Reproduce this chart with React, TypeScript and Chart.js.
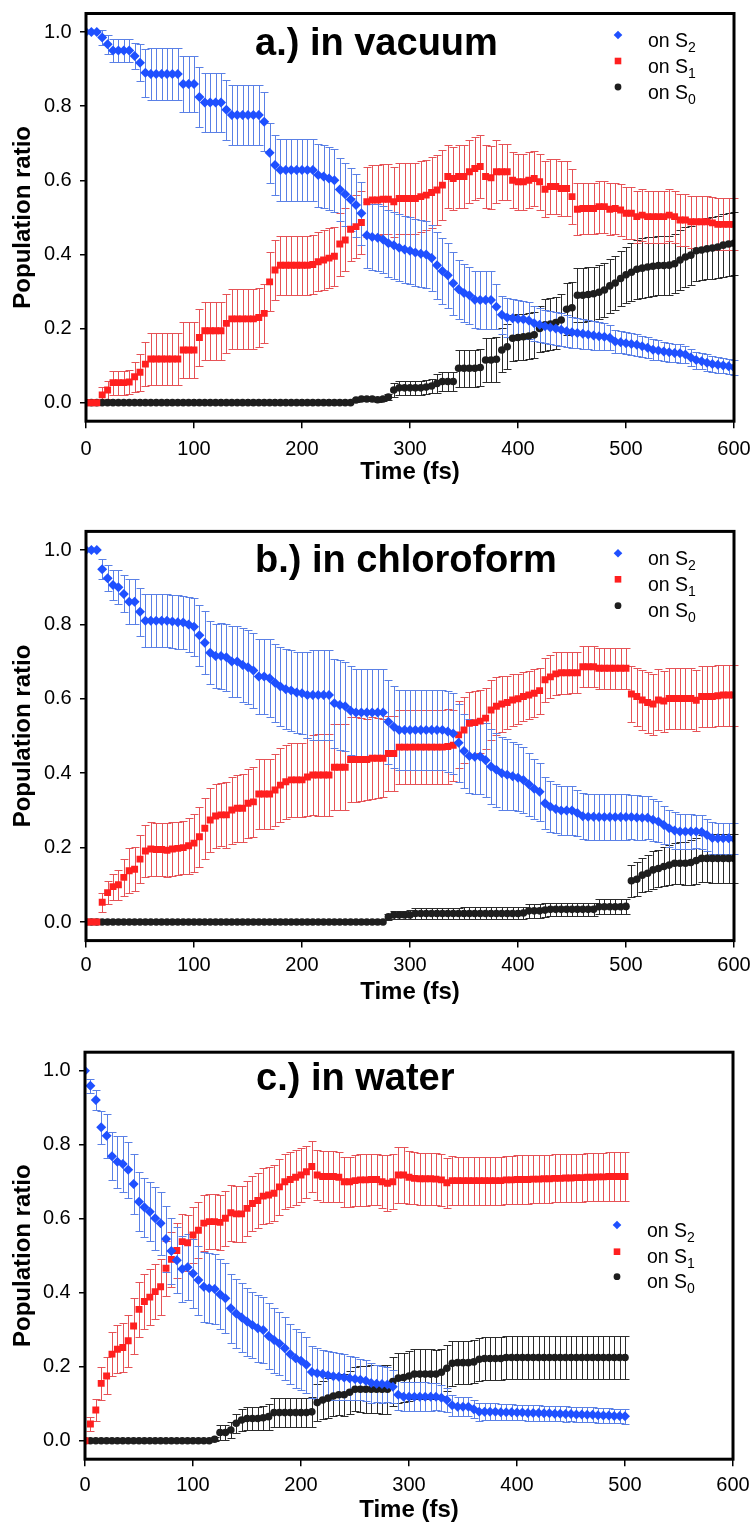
import React, { useEffect, useRef } from "react";
import { Chart, registerables } from "chart.js";
Chart.register(...registerables);

const FONT = '"Liberation Sans", Arial, Helvetica, sans-serif';
Chart.defaults.font.family = FONT;

// ---------- shared axis data ----------
const TIMES = [
  0, 5, 10, 15, 20, 25, 30, 35, 40, 45,
  50, 55, 60, 65, 70, 75, 80, 85, 90, 95,
  100, 105, 110, 115, 120, 125, 130, 135, 140, 145,
  150, 155, 160, 165, 170, 175, 180, 185, 190, 195,
  200, 205, 210, 215, 220, 225, 230, 235, 240, 245,
  250, 255, 260, 265, 270, 275, 280, 285, 290, 295,
  300, 305, 310, 315, 320, 325, 330, 335, 340, 345,
  350, 355, 360, 365, 370, 375, 380, 385, 390, 395,
  400, 405, 410, 415, 420, 425, 430, 435, 440, 445,
  450, 455, 460, 465, 470, 475, 480, 485, 490, 495,
  500, 505, 510, 515, 520, 525, 530, 535, 540, 545,
  550, 555, 560, 565, 570, 575, 580, 585, 590, 595,
  600,
];
const TIMES_C = TIMES.slice(0, 101);
const Y_TICKS = [0, 0.2, 0.4, 0.6, 0.8, 1.0];
const X_TITLE = "Time (fs)";
const Y_TITLE = "Population ratio";
const SERIES_LABELS = ["on S\u2082", "on S\u2081", "on S\u2080"];
const LEGEND_MAIN = ["on S", "on S", "on S"];
const LEGEND_SUB = ["2", "1", "0"];
const TITLES = ["a.) in vacuum", "b.) in chloroform", "c.) in water"];

// ---------- panel a: in vacuum ----------
const A_S2 = [
  1.0, 1.0, 1.0, 0.985, 0.967, 0.95, 0.95, 0.95, 0.95, 0.935,
  0.917, 0.89, 0.887, 0.887, 0.887, 0.887, 0.887, 0.887, 0.86, 0.86,
  0.86, 0.825, 0.81, 0.81, 0.81, 0.81, 0.79, 0.776, 0.776, 0.776,
  0.776, 0.776, 0.776, 0.758, 0.674, 0.641, 0.628, 0.628, 0.628, 0.628,
  0.628, 0.628, 0.628, 0.614, 0.61, 0.605, 0.6, 0.575, 0.562, 0.548,
  0.533, 0.511, 0.452, 0.447, 0.445, 0.44, 0.43, 0.425, 0.418, 0.413,
  0.41, 0.405, 0.402, 0.4, 0.39, 0.371, 0.355, 0.344, 0.322, 0.306,
  0.296, 0.29, 0.278, 0.277, 0.277, 0.277, 0.259, 0.237, 0.23, 0.228,
  0.226, 0.225, 0.222, 0.214, 0.21, 0.206, 0.203, 0.2, 0.197, 0.193,
  0.19, 0.188, 0.186, 0.184, 0.181, 0.179, 0.178, 0.175, 0.165, 0.163,
  0.16, 0.158, 0.156, 0.152, 0.148, 0.143, 0.141, 0.138, 0.136, 0.134,
  0.133, 0.13, 0.122, 0.115, 0.112, 0.108, 0.104, 0.102, 0.1, 0.098,
  0.095,
];
const A_S2_ERR = [
  0, 0, 0, 0.02, 0.025, 0.03, 0.03, 0.03, 0.03, 0.035,
  0.05, 0.065, 0.07, 0.07, 0.07, 0.07, 0.07, 0.07, 0.075, 0.075,
  0.075, 0.08, 0.08, 0.08, 0.08, 0.08, 0.08, 0.08, 0.08, 0.08,
  0.08, 0.08, 0.08, 0.08, 0.08, 0.082, 0.083, 0.083, 0.083, 0.083,
  0.083, 0.083, 0.083, 0.085, 0.085, 0.085, 0.085, 0.085, 0.085, 0.085,
  0.085, 0.085, 0.09, 0.09, 0.09, 0.09, 0.09, 0.09, 0.09, 0.09,
  0.09, 0.09, 0.09, 0.09, 0.09, 0.09, 0.09, 0.088, 0.085, 0.08,
  0.078, 0.077, 0.077, 0.077, 0.077, 0.077, 0.06, 0.052, 0.052, 0.052,
  0.05, 0.05, 0.05, 0.048, 0.045, 0.045, 0.045, 0.045, 0.045, 0.043,
  0.042, 0.04, 0.04, 0.04, 0.04, 0.038, 0.036, 0.034, 0.032, 0.03,
  0.03, 0.03, 0.03, 0.029, 0.028, 0.028, 0.027, 0.026, 0.026, 0.025,
  0.025, 0.024, 0.023, 0.023, 0.022, 0.022, 0.022, 0.021, 0.021, 0.02,
  0.02,
];
const A_S1 = [
  0, 0, 0, 0.021, 0.034, 0.054, 0.054, 0.054, 0.056, 0.07,
  0.082, 0.104, 0.118, 0.118, 0.118, 0.118, 0.118, 0.118, 0.142, 0.142,
  0.142, 0.176, 0.194, 0.194, 0.194, 0.194, 0.214, 0.226, 0.226, 0.226,
  0.226, 0.226, 0.23, 0.241, 0.326, 0.358, 0.371, 0.371, 0.371, 0.371,
  0.371, 0.371, 0.373, 0.38, 0.385, 0.39, 0.395, 0.428, 0.439, 0.468,
  0.475, 0.486, 0.542, 0.547, 0.547, 0.549, 0.549, 0.542, 0.551, 0.551,
  0.551, 0.551, 0.556, 0.56, 0.567, 0.574, 0.587, 0.61, 0.605, 0.61,
  0.61, 0.623, 0.632, 0.637, 0.61, 0.607, 0.623, 0.623, 0.623, 0.6,
  0.596, 0.596, 0.6, 0.605, 0.596, 0.576, 0.583, 0.583, 0.578, 0.578,
  0.556, 0.522, 0.524, 0.524, 0.524, 0.529, 0.529, 0.522, 0.524, 0.52,
  0.511, 0.511, 0.502, 0.506, 0.502, 0.502, 0.502, 0.502, 0.506, 0.502,
  0.493, 0.493, 0.488, 0.488, 0.488, 0.488, 0.485, 0.481, 0.481, 0.481,
  0.481,
];
const A_S1_ERR = [
  0, 0, 0, 0.02, 0.025, 0.032, 0.032, 0.032, 0.032, 0.04,
  0.05, 0.06, 0.07, 0.07, 0.07, 0.07, 0.07, 0.07, 0.075, 0.075,
  0.075, 0.078, 0.078, 0.078, 0.078, 0.078, 0.08, 0.08, 0.08, 0.08,
  0.08, 0.08, 0.08, 0.08, 0.08, 0.08, 0.08, 0.08, 0.08, 0.08,
  0.08, 0.08, 0.08, 0.08, 0.08, 0.08, 0.08, 0.085, 0.085, 0.085,
  0.085, 0.085, 0.095, 0.095, 0.095, 0.095, 0.095, 0.095, 0.095, 0.095,
  0.095, 0.095, 0.095, 0.095, 0.095, 0.095, 0.095, 0.085, 0.085, 0.085,
  0.085, 0.085, 0.085, 0.085, 0.085, 0.085, 0.085, 0.075, 0.075, 0.075,
  0.075, 0.075, 0.075, 0.075, 0.075, 0.075, 0.075, 0.075, 0.075, 0.075,
  0.075, 0.07, 0.07, 0.07, 0.07, 0.07, 0.07, 0.07, 0.07, 0.07,
  0.07, 0.07, 0.07, 0.07, 0.07, 0.07, 0.07, 0.07, 0.07, 0.07,
  0.07, 0.07, 0.07, 0.07, 0.07, 0.07, 0.07, 0.07, 0.07, 0.07,
  0.07,
];
const A_S0 = [
  0, 0, 0, 0, 0, 0, 0, 0, 0, 0,
  0, 0, 0, 0, 0, 0, 0, 0, 0, 0,
  0, 0, 0, 0, 0, 0, 0, 0, 0, 0,
  0, 0, 0, 0, 0, 0, 0, 0, 0, 0,
  0, 0, 0, 0, 0, 0, 0, 0, 0, 0,
  0.007, 0.01, 0.01, 0.01, 0.008, 0.01, 0.015, 0.034, 0.04, 0.04,
  0.04, 0.04, 0.04, 0.042, 0.045, 0.052, 0.057, 0.057, 0.057, 0.093,
  0.093, 0.093, 0.093, 0.095, 0.115, 0.115, 0.117, 0.142, 0.151, 0.174,
  0.176, 0.178, 0.18, 0.183, 0.2, 0.21, 0.212, 0.216, 0.223, 0.252,
  0.256, 0.29, 0.29, 0.292, 0.294, 0.298, 0.304, 0.315, 0.323, 0.335,
  0.345, 0.352, 0.36, 0.363, 0.366, 0.368, 0.37, 0.37, 0.371, 0.375,
  0.385, 0.393, 0.398, 0.41, 0.412, 0.415, 0.417, 0.42, 0.425, 0.428,
  0.43,
];
const A_S0_ERR = [
  0, 0, 0, 0, 0, 0, 0, 0, 0, 0,
  0, 0, 0, 0, 0, 0, 0, 0, 0, 0,
  0, 0, 0, 0, 0, 0, 0, 0, 0, 0,
  0, 0, 0, 0, 0, 0, 0, 0, 0, 0,
  0, 0, 0, 0, 0, 0, 0, 0, 0, 0,
  0.005, 0.005, 0.005, 0.005, 0.005, 0.005, 0.008, 0.018, 0.018, 0.018,
  0.018, 0.018, 0.018, 0.018, 0.018, 0.025, 0.025, 0.025, 0.025, 0.05,
  0.05, 0.05, 0.05, 0.05, 0.06, 0.06, 0.06, 0.06, 0.06, 0.062,
  0.062, 0.062, 0.062, 0.062, 0.062, 0.07, 0.07, 0.07, 0.07, 0.07,
  0.07, 0.073, 0.073, 0.073, 0.073, 0.073, 0.073, 0.073, 0.073, 0.075,
  0.075, 0.078, 0.08, 0.08, 0.08, 0.08, 0.08, 0.08, 0.08, 0.08,
  0.08, 0.08, 0.08, 0.082, 0.082, 0.082, 0.083, 0.084, 0.085, 0.085,
  0.085,
];

// ---------- panel b: in chloroform ----------
const B_S2 = [
  1.0, 1.0, 1.0, 0.948, 0.924, 0.906, 0.9, 0.882, 0.861, 0.861,
  0.834, 0.81, 0.81, 0.81, 0.81, 0.81, 0.808, 0.806, 0.805, 0.8,
  0.794, 0.771, 0.751, 0.724, 0.715, 0.715, 0.712, 0.7, 0.7, 0.691,
  0.685, 0.676, 0.66, 0.66, 0.655, 0.643, 0.633, 0.626, 0.622, 0.617,
  0.615, 0.61, 0.61, 0.61, 0.61, 0.61, 0.588, 0.583, 0.58, 0.568,
  0.563, 0.563, 0.563, 0.563, 0.563, 0.563, 0.538, 0.525, 0.516, 0.516,
  0.516, 0.516, 0.516, 0.516, 0.516, 0.516, 0.516, 0.512, 0.507, 0.482,
  0.46, 0.446, 0.444, 0.445, 0.435, 0.418, 0.409, 0.4, 0.396, 0.392,
  0.388, 0.382, 0.37, 0.358, 0.35, 0.319, 0.31, 0.304, 0.3, 0.3,
  0.3, 0.293, 0.284, 0.283, 0.283, 0.282, 0.282, 0.282, 0.282, 0.282,
  0.282, 0.282, 0.281, 0.28, 0.28, 0.275, 0.27, 0.261, 0.252, 0.246,
  0.243, 0.243, 0.243, 0.243, 0.242, 0.234, 0.226, 0.225, 0.225, 0.225,
  0.224,
];
const B_S2_ERR = [
  0, 0, 0, 0.027, 0.035, 0.04, 0.045, 0.05, 0.06, 0.06,
  0.065, 0.072, 0.072, 0.072, 0.072, 0.072, 0.072, 0.072, 0.072, 0.075,
  0.078, 0.082, 0.085, 0.085, 0.085, 0.088, 0.09, 0.095, 0.095, 0.1,
  0.1, 0.1, 0.1, 0.1, 0.105, 0.105, 0.105, 0.108, 0.108, 0.11,
  0.11, 0.115, 0.12, 0.12, 0.12, 0.12, 0.12, 0.12, 0.12, 0.12,
  0.118, 0.118, 0.118, 0.118, 0.118, 0.118, 0.112, 0.11, 0.108, 0.108,
  0.108, 0.108, 0.108, 0.108, 0.108, 0.108, 0.108, 0.108, 0.108, 0.105,
  0.1, 0.1, 0.1, 0.1, 0.1, 0.1, 0.1, 0.098, 0.095, 0.092,
  0.09, 0.088, 0.085, 0.08, 0.078, 0.07, 0.068, 0.066, 0.065, 0.065,
  0.065, 0.063, 0.062, 0.062, 0.062, 0.062, 0.062, 0.062, 0.062, 0.062,
  0.062, 0.06, 0.06, 0.06, 0.058, 0.056, 0.054, 0.052, 0.05, 0.05,
  0.048, 0.048, 0.046, 0.045, 0.045, 0.044, 0.043, 0.042, 0.042, 0.042,
  0.042,
];
const B_S1 = [
  0, 0, 0, 0.053, 0.079, 0.095, 0.1, 0.12, 0.138, 0.142,
  0.169, 0.191, 0.196, 0.195, 0.195, 0.193, 0.196, 0.198, 0.2, 0.205,
  0.212, 0.229, 0.252, 0.274, 0.285, 0.288, 0.288, 0.301, 0.306, 0.306,
  0.319, 0.323, 0.344, 0.344, 0.344, 0.355, 0.368, 0.377, 0.382, 0.382,
  0.382, 0.39, 0.395, 0.395, 0.395, 0.395, 0.416, 0.416, 0.416, 0.437,
  0.437, 0.437, 0.437, 0.44, 0.44, 0.44, 0.453, 0.453, 0.47, 0.47,
  0.47, 0.47, 0.47, 0.47, 0.47, 0.47, 0.47, 0.472, 0.475, 0.503,
  0.516, 0.534, 0.536, 0.54, 0.548, 0.57, 0.58, 0.586, 0.59, 0.597,
  0.6, 0.606, 0.61, 0.615, 0.622, 0.651, 0.659, 0.667, 0.67, 0.67,
  0.67, 0.67, 0.686, 0.686, 0.686, 0.682, 0.682, 0.682, 0.682, 0.682,
  0.682, 0.613, 0.606, 0.597, 0.59, 0.586, 0.597, 0.594, 0.601, 0.601,
  0.601, 0.601, 0.601, 0.596, 0.606, 0.606, 0.606, 0.608, 0.61, 0.61,
  0.61,
];
const B_S1_ERR = [
  0, 0, 0, 0.025, 0.03, 0.035, 0.04, 0.05, 0.06, 0.06,
  0.065, 0.07, 0.072, 0.072, 0.072, 0.072, 0.072, 0.072, 0.072, 0.075,
  0.078, 0.08, 0.082, 0.085, 0.085, 0.085, 0.088, 0.09, 0.09, 0.092,
  0.092, 0.095, 0.095, 0.095, 0.095, 0.097, 0.1, 0.1, 0.1, 0.1,
  0.1, 0.105, 0.108, 0.11, 0.11, 0.11, 0.115, 0.115, 0.115, 0.115,
  0.115, 0.112, 0.11, 0.11, 0.108, 0.105, 0.1, 0.1, 0.1, 0.1,
  0.1, 0.1, 0.1, 0.1, 0.1, 0.1, 0.1, 0.1, 0.095, 0.09,
  0.088, 0.085, 0.085, 0.085, 0.082, 0.08, 0.078, 0.075, 0.072, 0.07,
  0.068, 0.066, 0.065, 0.065, 0.062, 0.06, 0.058, 0.058, 0.056, 0.056,
  0.055, 0.055, 0.055, 0.055, 0.055, 0.055, 0.055, 0.055, 0.055, 0.055,
  0.055, 0.075, 0.078, 0.08, 0.082, 0.082, 0.082, 0.082, 0.082, 0.082,
  0.082, 0.082, 0.082, 0.082, 0.082, 0.082, 0.082, 0.082, 0.082, 0.082,
  0.082,
];
const B_S0 = [
  0, 0, 0, 0, 0, 0, 0, 0, 0, 0,
  0, 0, 0, 0, 0, 0, 0, 0, 0, 0,
  0, 0, 0, 0, 0, 0, 0, 0, 0, 0,
  0, 0, 0, 0, 0, 0, 0, 0, 0, 0,
  0, 0, 0, 0, 0, 0, 0, 0, 0, 0,
  0, 0, 0, 0, 0, 0, 0.014, 0.019, 0.019, 0.019,
  0.019, 0.023, 0.023, 0.023, 0.023, 0.023, 0.023, 0.023, 0.023, 0.023,
  0.023, 0.023, 0.023, 0.023, 0.023, 0.023, 0.023, 0.023, 0.023, 0.023,
  0.023, 0.024, 0.03, 0.03, 0.03, 0.032, 0.034, 0.034, 0.034, 0.034,
  0.034, 0.034, 0.034, 0.034, 0.034, 0.041, 0.041, 0.041, 0.041, 0.041,
  0.042, 0.111, 0.115, 0.126, 0.131, 0.14, 0.144, 0.149, 0.153, 0.158,
  0.158, 0.158, 0.16, 0.165, 0.171, 0.171, 0.171, 0.171, 0.171, 0.171,
  0.171,
];
const B_S0_ERR = [
  0, 0, 0, 0, 0, 0, 0, 0, 0, 0,
  0, 0, 0, 0, 0, 0, 0, 0, 0, 0,
  0, 0, 0, 0, 0, 0, 0, 0, 0, 0,
  0, 0, 0, 0, 0, 0, 0, 0, 0, 0,
  0, 0, 0, 0, 0, 0, 0, 0, 0, 0,
  0, 0, 0, 0, 0, 0, 0.008, 0.01, 0.01, 0.01,
  0.012, 0.015, 0.015, 0.015, 0.015, 0.015, 0.015, 0.015, 0.015, 0.015,
  0.016, 0.016, 0.016, 0.016, 0.016, 0.016, 0.016, 0.016, 0.016, 0.016,
  0.016, 0.017, 0.018, 0.018, 0.018, 0.018, 0.018, 0.018, 0.018, 0.018,
  0.018, 0.018, 0.018, 0.018, 0.018, 0.02, 0.02, 0.02, 0.02, 0.02,
  0.02, 0.043, 0.045, 0.046, 0.048, 0.05, 0.05, 0.052, 0.053, 0.055,
  0.056, 0.058, 0.06, 0.062, 0.063, 0.064, 0.065, 0.065, 0.065, 0.065,
  0.065,
];

// ---------- panel c: in water (0 - 500 fs) ----------
const C_S2 = [
  1.0, 0.959, 0.921, 0.847, 0.824, 0.769, 0.754, 0.748, 0.732, 0.694,
  0.646, 0.631, 0.619, 0.601, 0.588, 0.545, 0.513, 0.488, 0.464, 0.469,
  0.452, 0.434, 0.416, 0.412, 0.41, 0.396, 0.385, 0.358, 0.344, 0.333,
  0.322, 0.313, 0.304, 0.299, 0.283, 0.272, 0.263, 0.25, 0.234, 0.223,
  0.216, 0.205, 0.186, 0.182, 0.18, 0.177, 0.174, 0.173, 0.171, 0.169,
  0.167, 0.165, 0.162, 0.156, 0.154, 0.153, 0.152, 0.146, 0.124, 0.119,
  0.119, 0.119, 0.119, 0.119, 0.119, 0.119, 0.116, 0.11, 0.096, 0.092,
  0.092, 0.092, 0.085, 0.078, 0.078, 0.078, 0.078, 0.077, 0.077, 0.077,
  0.076, 0.076, 0.075, 0.075, 0.075, 0.074, 0.074, 0.073, 0.073, 0.072,
  0.072, 0.071, 0.071, 0.07, 0.07, 0.069, 0.068, 0.068, 0.067, 0.067,
  0.066,
];
const C_S2_ERR = [
  0, 0.018, 0.028, 0.045, 0.06, 0.065, 0.07, 0.075, 0.075, 0.08,
  0.08, 0.08, 0.08, 0.085, 0.085, 0.09, 0.09, 0.09, 0.09, 0.09,
  0.092, 0.093, 0.095, 0.095, 0.095, 0.095, 0.095, 0.093, 0.093, 0.092,
  0.092, 0.09, 0.09, 0.09, 0.088, 0.088, 0.085, 0.085, 0.082, 0.08,
  0.078, 0.075, 0.07, 0.068, 0.066, 0.065, 0.065, 0.063, 0.062, 0.06,
  0.058, 0.056, 0.055, 0.053, 0.05, 0.05, 0.048, 0.045, 0.04, 0.04,
  0.04, 0.04, 0.04, 0.04, 0.038, 0.036, 0.035, 0.032, 0.028, 0.026,
  0.025, 0.025, 0.024, 0.024, 0.023, 0.023, 0.023, 0.022, 0.022, 0.022,
  0.021, 0.021, 0.021, 0.021, 0.021, 0.021, 0.021, 0.021, 0.021, 0.021,
  0.02, 0.02, 0.02, 0.02, 0.02, 0.02, 0.02, 0.02, 0.02, 0.02,
  0.02,
];
const C_S1 = [
  0, 0.045, 0.083, 0.155, 0.175, 0.234, 0.247, 0.252, 0.27, 0.31,
  0.355, 0.376, 0.388, 0.403, 0.416, 0.466, 0.49, 0.514, 0.538, 0.535,
  0.556, 0.569, 0.588, 0.592, 0.592, 0.59, 0.601, 0.616, 0.613, 0.613,
  0.628, 0.641, 0.649, 0.661, 0.664, 0.669, 0.686, 0.7, 0.706, 0.712,
  0.718, 0.727, 0.741, 0.718, 0.714, 0.714, 0.714, 0.712, 0.7, 0.7,
  0.703, 0.705, 0.705, 0.706, 0.706, 0.7, 0.696, 0.7, 0.718, 0.718,
  0.712, 0.709, 0.708, 0.708, 0.708, 0.707, 0.705, 0.697, 0.703, 0.703,
  0.703, 0.703, 0.703, 0.703, 0.703, 0.703, 0.703, 0.703, 0.705, 0.705,
  0.706, 0.706, 0.706, 0.707, 0.707, 0.708, 0.708, 0.709, 0.709, 0.71,
  0.71, 0.711, 0.711, 0.712, 0.712, 0.713, 0.713, 0.714, 0.714, 0.714,
  0.714,
];
const C_S1_ERR = [
  0, 0.02, 0.03, 0.045, 0.05, 0.06, 0.065, 0.065, 0.07, 0.075,
  0.075, 0.075, 0.075, 0.075, 0.075, 0.075, 0.075, 0.075, 0.075, 0.075,
  0.075, 0.075, 0.075, 0.075, 0.075, 0.075, 0.075, 0.075, 0.075, 0.075,
  0.075, 0.075, 0.075, 0.075, 0.075, 0.075, 0.075, 0.075, 0.075, 0.075,
  0.072, 0.07, 0.068, 0.068, 0.068, 0.068, 0.068, 0.068, 0.068, 0.068,
  0.068, 0.07, 0.07, 0.07, 0.07, 0.072, 0.075, 0.075, 0.075, 0.075,
  0.072, 0.07, 0.07, 0.07, 0.07, 0.07, 0.07, 0.068, 0.066, 0.065,
  0.065, 0.065, 0.065, 0.065, 0.065, 0.065, 0.065, 0.065, 0.065, 0.065,
  0.065, 0.065, 0.065, 0.065, 0.065, 0.065, 0.065, 0.065, 0.065, 0.065,
  0.065, 0.065, 0.065, 0.065, 0.065, 0.065, 0.065, 0.065, 0.065, 0.065,
  0.065,
];
const C_S0 = [
  0, 0, 0, 0, 0, 0, 0, 0, 0, 0,
  0, 0, 0, 0, 0, 0, 0, 0, 0, 0,
  0, 0, 0, 0, 0.004, 0.022, 0.022, 0.029, 0.047, 0.056,
  0.06, 0.06, 0.06, 0.062, 0.065, 0.076, 0.076, 0.076, 0.076, 0.076,
  0.076, 0.076, 0.078, 0.103, 0.11, 0.115, 0.121, 0.124, 0.124, 0.131,
  0.139, 0.139, 0.139, 0.139, 0.139, 0.139, 0.139, 0.16, 0.169, 0.171,
  0.175, 0.18, 0.18, 0.18, 0.18, 0.18, 0.185, 0.196, 0.209, 0.211,
  0.211, 0.211, 0.213, 0.22, 0.222, 0.222, 0.222, 0.222, 0.225, 0.225,
  0.225, 0.225, 0.225, 0.225, 0.225, 0.225, 0.225, 0.225, 0.225, 0.225,
  0.225, 0.225, 0.225, 0.225, 0.225, 0.225, 0.225, 0.225, 0.225, 0.225,
  0.225,
];
const C_S0_ERR = [
  0, 0, 0, 0, 0, 0, 0, 0, 0, 0,
  0, 0, 0, 0, 0, 0, 0, 0, 0, 0,
  0, 0, 0, 0, 0.005, 0.02, 0.02, 0.022, 0.025, 0.03,
  0.03, 0.03, 0.03, 0.032, 0.035, 0.04, 0.04, 0.04, 0.04, 0.04,
  0.04, 0.04, 0.04, 0.05, 0.052, 0.054, 0.055, 0.055, 0.056, 0.058,
  0.06, 0.062, 0.064, 0.065, 0.065, 0.066, 0.066, 0.067, 0.067, 0.067,
  0.067, 0.067, 0.067, 0.067, 0.067, 0.066, 0.064, 0.062, 0.06, 0.058,
  0.058, 0.058, 0.058, 0.058, 0.058, 0.058, 0.058, 0.057, 0.057, 0.057,
  0.057, 0.057, 0.057, 0.057, 0.057, 0.057, 0.057, 0.057, 0.057, 0.057,
  0.057, 0.057, 0.057, 0.057, 0.057, 0.057, 0.057, 0.057, 0.057, 0.057,
  0.057,
];

// ---------- styling ----------
const MARKER_COLORS = ["#1f50ff", "#ff1f1f", "#1e1e1e"];
const ERR_COLORS = ["#5a80e6", "#e65256", "#2b2b2b"];
const POINT_STYLES = ["rectRot", "rect", "circle"];
const POINT_RADII = [5, 4.9, 3.8];

type Panel = {
  key: string;
  title: string;
  top: number;
  height: number;
  areaTop: number;
  areaBottom: number;
  areaLeft: number;
  areaRight: number;
  xTickPad: number;
  xTitlePad: number;
  titleX: number;
  titleBaseline: number;
  legendX: number;
  legendTextX: number;
  legendY: number[];
  times: number[];
  vals: number[][];
  errs: number[][];
};

const PANELS: Panel[] = [
  {
    key: "a", title: TITLES[0], top: 0, height: 500,
    areaTop: 13.5, areaBottom: 421.2, areaLeft: 86, areaRight: 734,
    xTickPad: 8.8, xTitlePad: 13.6, titleX: 255, titleBaseline: 55,
    legendX: 618, legendTextX: 648, legendY: [35, 61, 87],
    times: TIMES, vals: [A_S2, A_S1, A_S0], errs: [A_S2_ERR, A_S1_ERR, A_S0_ERR],
  },
  {
    key: "b", title: TITLES[1], top: 500, height: 520,
    areaTop: 31.4, areaBottom: 440.6, areaLeft: 86, areaRight: 734,
    xTickPad: 6.2, xTitlePad: 13.6, titleX: 255, titleBaseline: 71.7,
    legendX: 618, legendTextX: 648, legendY: [53.3, 79.3, 105.7],
    times: TIMES, vals: [B_S2, B_S1, B_S0], errs: [B_S2_ERR, B_S1_ERR, B_S0_ERR],
  },
  {
    key: "c", title: TITLES[2], top: 1020, height: 505,
    areaTop: 32.2, areaBottom: 439.2, areaLeft: 85, areaRight: 733,
    xTickPad: 6.8, xTitlePad: 0, titleX: 256, titleBaseline: 70,
    legendX: 617, legendTextX: 647, legendY: [205, 231.7, 256.7],
    times: TIMES_C, vals: [C_S2, C_S1, C_S0], errs: [C_S2_ERR, C_S1_ERR, C_S0_ERR],
  },
];

function drawMarker(ctx: CanvasRenderingContext2D, kind: number, x: number, y: number) {
  ctx.fillStyle = MARKER_COLORS[kind];
  ctx.beginPath();
  if (kind === 0) {
    const r = 4.3;
    ctx.moveTo(x, y - r);
    ctx.lineTo(x + r, y);
    ctx.lineTo(x, y + r);
    ctx.lineTo(x - r, y);
    ctx.closePath();
  } else if (kind === 1) {
    ctx.rect(x - 3.3, y - 3.3, 6.6, 6.6);
  } else {
    ctx.arc(x, y, 3.4, 0, Math.PI * 2);
  }
  ctx.fill();
}

function PanelChart({ p }: { p: Panel }) {
  const ref = useRef<HTMLCanvasElement>(null);
  useEffect(() => {
    const canvas = ref.current;
    if (!canvas) return;
    const CAP = 4;
    const overlay = {
      id: "overlay_" + p.key,
      beforeDatasetsDraw(chart: any) {
        const ctx = chart.ctx as CanvasRenderingContext2D;
        const ys = chart.scales.y;
        ctx.save();
        ctx.lineWidth = 1;
        for (let di = 2; di >= 0; di--) {
          const meta = chart.getDatasetMeta(di);
          const vals = p.vals[di];
          const errs = p.errs[di];
          ctx.strokeStyle = ERR_COLORS[di];
          ctx.beginPath();
          meta.data.forEach((el: any, j: number) => {
            const e = errs[j];
            if (!e) return;
            const v = vals[j];
            const x = Math.round(el.x) + 0.5;
            const y1 = Math.round(ys.getPixelForValue(v + e)) + 0.5;
            const y2 = Math.round(ys.getPixelForValue(v - e)) + 0.5;
            ctx.moveTo(x, y1);
            ctx.lineTo(x, y2);
            ctx.moveTo(x - CAP, y1);
            ctx.lineTo(x + CAP, y1);
            ctx.moveTo(x - CAP, y2);
            ctx.lineTo(x + CAP, y2);
          });
          ctx.stroke();
        }
        ctx.restore();
      },
      afterDraw(chart: any) {
        const ctx = chart.ctx as CanvasRenderingContext2D;
        const { left, top, right, bottom } = chart.chartArea;
        ctx.save();
        ctx.strokeStyle = "#000";
        ctx.lineWidth = 3;
        ctx.strokeRect(left, top, right - left, bottom - top);
        ctx.fillStyle = "#000";
        ctx.font = "bold 38px " + FONT;
        ctx.textAlign = "left";
        ctx.textBaseline = "alphabetic";
        ctx.fillText(p.title, p.titleX, p.titleBaseline);
        for (let i = 0; i < 3; i++) {
          const my = p.legendY[i];
          drawMarker(ctx, i, p.legendX, my);
          ctx.fillStyle = "#000";
          ctx.font = "19.5px " + FONT;
          const base = my + 11.5;
          ctx.fillText(LEGEND_MAIN[i], p.legendTextX, base);
          const w = ctx.measureText(LEGEND_MAIN[i]).width;
          ctx.font = "14px " + FONT;
          ctx.fillText(LEGEND_SUB[i], p.legendTextX + w, base + 5);
        }
        ctx.restore();
      },
    };

    const chart = new Chart(canvas, {
      type: "scatter",
      data: {
        datasets: [0, 1, 2].map((di) => ({
          label: SERIES_LABELS[di],
          data: p.vals[di].map((v, i) => ({ x: p.times[i], y: v })),
          pointStyle: POINT_STYLES[di] as any,
          pointRadius: POINT_RADII[di],
          pointBackgroundColor: MARKER_COLORS[di],
          pointBorderColor: MARKER_COLORS[di],
          pointBorderWidth: 0,
          showLine: false,
        })),
      },
      options: {
        responsive: false,
        animation: false,
        events: [],
        layout: {
          padding: { left: 0, right: 754 - p.areaRight, top: p.areaTop, bottom: 0 },
        },
        plugins: {
          legend: { display: false },
          tooltip: { enabled: false },
          title: { display: false },
        },
        scales: {
          x: {
            type: "linear",
            min: 0,
            max: 600,
            afterFit: (s: any) => {
              s.height = p.height - p.areaBottom;
              s.paddingLeft = 0;
              s.paddingRight = 0;
            },
            ticks: {
              stepSize: 100,
              color: "#000",
              font: { size: 20, family: FONT },
              padding: p.xTickPad,
              maxRotation: 0,
              autoSkip: false,
            },
            grid: {
              drawOnChartArea: false,
              drawTicks: true,
              tickLength: 7,
              color: "#000",
              lineWidth: 1.5,
            },
            border: { display: false },
            title: {
              display: true,
              text: X_TITLE,
              color: "#000",
              font: { size: 24, weight: "bold", family: FONT },
              padding: { top: 0, bottom: p.xTitlePad },
            },
          },
          y: {
            type: "linear",
            min: -0.05,
            max: 1.05,
            afterFit: (s: any) => {
              s.width = p.areaLeft;
              s.paddingTop = 0;
              s.paddingBottom = 0;
            },
            afterBuildTicks: (s: any) => {
              s.ticks = Y_TICKS.map((v) => ({ value: v }));
            },
            ticks: {
              color: "#000",
              font: { size: 20, family: FONT },
              padding: 8.3,
              callback: (v: any) => Number(v).toFixed(1),
            },
            grid: {
              drawOnChartArea: false,
              drawTicks: true,
              tickLength: 6,
              color: "#000",
              lineWidth: 1.5,
            },
            border: { display: false },
            title: {
              display: true,
              text: Y_TITLE,
              color: "#000",
              font: { size: 24, weight: "bold", family: FONT },
              padding: { top: 8.6, bottom: 0 },
            },
          },
        },
      } as any,
      plugins: [overlay],
    });
    return () => chart.destroy();
  }, [p]);

  return (
    <canvas
      ref={ref}
      width={754}
      height={p.height}
      style={{ position: "absolute", left: 0, top: p.top, width: 754, height: p.height, display: "block" }}
    />
  );
}

export default function App() {
  return (
    <div
      style={{
        position: "absolute",
        left: 0,
        top: 0,
        width: 754,
        height: 1525,
        overflow: "hidden",
        background: "#fff",
      }}
    >
      {PANELS.map((p) => (
        <PanelChart key={p.key} p={p} />
      ))}
    </div>
  );
}
